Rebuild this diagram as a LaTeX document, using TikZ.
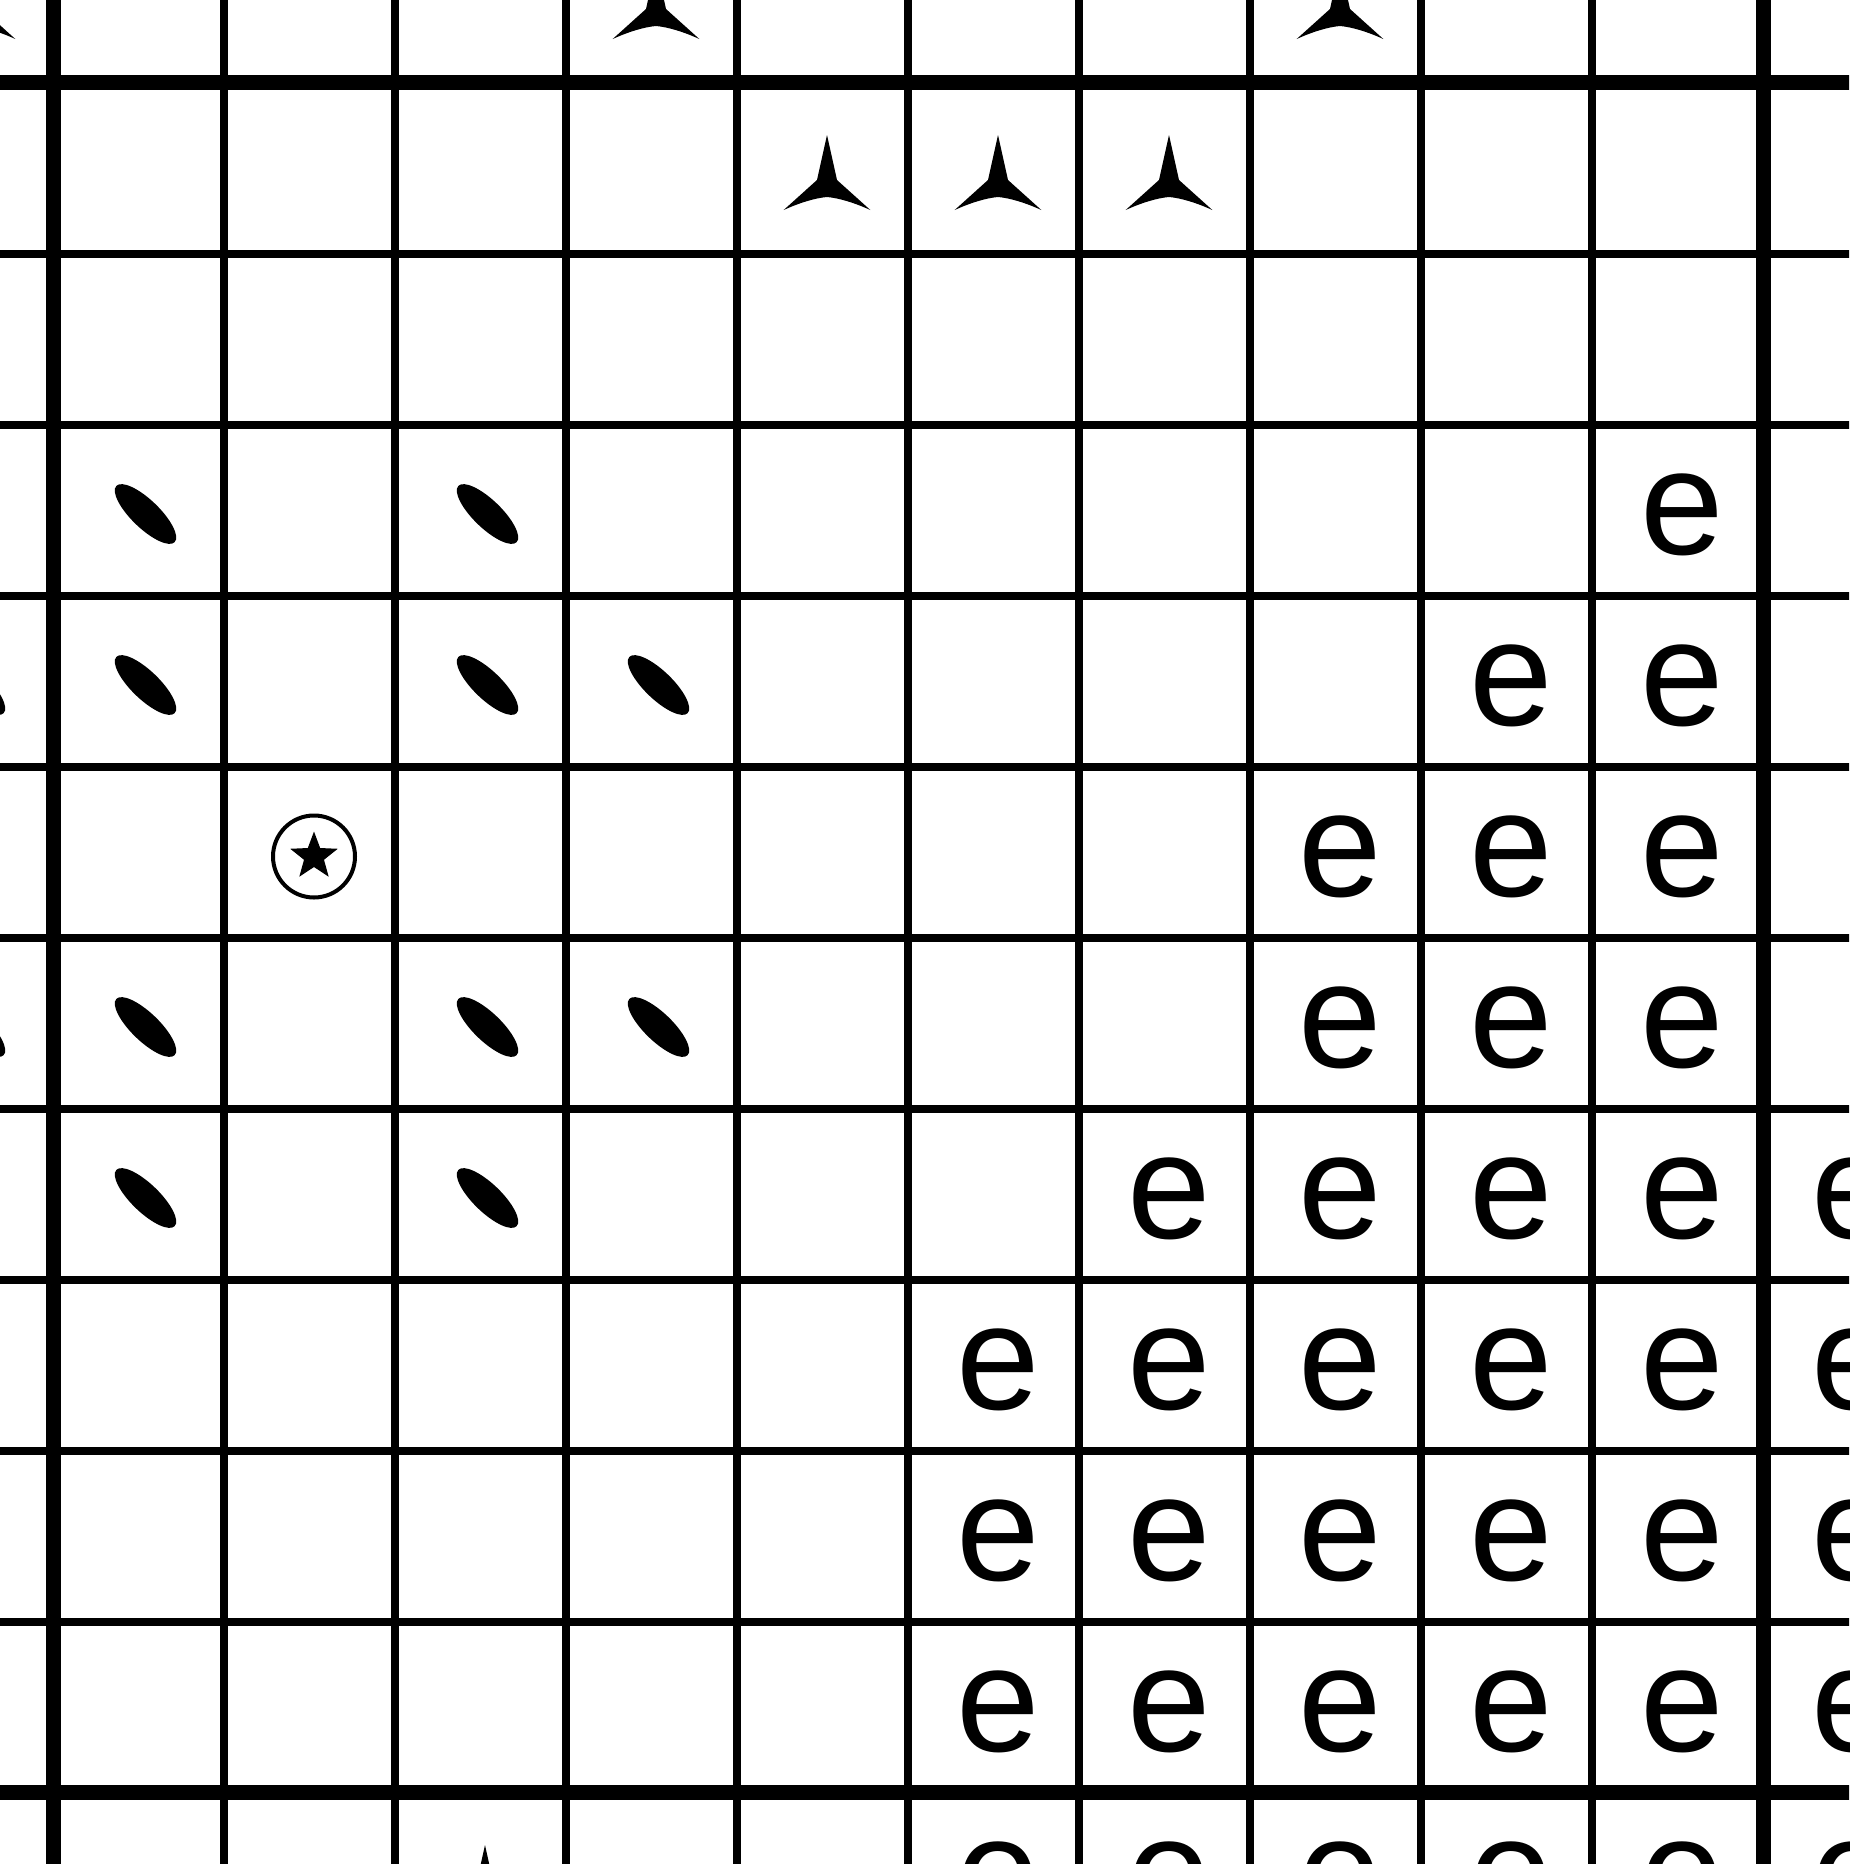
\documentclass[tikz,border=0pt]{standalone}
\usepackage{fontspec}
\setmainfont{Liberation Sans}
\usetikzlibrary{shapes.geometric}
\begin{document}
\begin{tikzpicture}[x=0.5pt,y=-0.5pt,
  thingrid/.style={line width=4pt},
  thickgrid/.style={line width=7.5pt},
  letter/.style={inner sep=0pt, font=\fontsize{75}{75}\selectfont},
  oval/.style={ellipse, fill=black, draw=none, inner sep=0pt, outer sep=0pt, minimum width=40.5pt, minimum height=14pt, rotate=-44},
  ring/.style={circle, draw=black, line width=2pt, inner sep=0pt, minimum size=41pt},
  tripod/.style={fill=black}
]
\useasboundingbox (0,0) rectangle (1849,1864);
\clip (0,0) rectangle (1849,1864);
\fill[white] (0,0) rectangle (1849,1864);
% grid
\foreach \k in {1,...,9} {
  \draw[thingrid] ({53+171*\k},-20) -- ({53+171*\k},1890);
  \draw[thingrid] (-20,{82.5+171*\k}) -- (1870,{82.5+171*\k});
}
\foreach \k in {0,10} {
  \draw[thickgrid] ({53+171*\k},-20) -- ({53+171*\k},1890);
  \draw[thickgrid] (-20,{82.5+171*\k}) -- (1870,{82.5+171*\k});
}
% letters e
\foreach \r/\c in {2/9,3/8,3/9,4/7,4/8,4/9,5/7,5/8,5/9,6/6}
  \node[letter] (e\r-\c) at ({143+171*\c},{172.5+171*\r}) {e};
\foreach \r in {6,...,10}
  \foreach \c in {7,...,10}
    \node[letter] (e\r-\c) at ({143+171*\c},{172.5+171*\r}) {e};
\foreach \r in {7,...,10}
  \foreach \c in {5,6}
    \node[letter] (e\r-\c) at ({143+171*\c},{172.5+171*\r}) {e};
% ellipses
\foreach \r/\c in {2/0,2/2,3/-1,3/0,3/2,3/3,5/-1,5/0,5/2,5/3,6/0,6/2}
  \node[oval] (o\r-\c) at ({145.5+171*\c},{172+171*\r}) {};
% tripods
\foreach \r/\c in {-1/-1,-1/3,-1/7,0/4,0/5,0/6,10/2}
  \fill[tripod,shift={({143+171*\c},{185+171*\r})}]
    (0,-50) -- (-10,-5) -- (-43.3,25)
    .. controls (-28,18) and (-12,13) .. (0,12)
    .. controls (12,13) and (28,18) .. (43.3,25)
    -- (10,-5) -- cycle;
% circled star
\node[ring] (ring) at ({143+171*1},{172.5+171*4}) {};
\fill[shift={(ring.center)}] (-90:25) -- (-54:10.5) -- (-18:25) -- (18:10.5) -- (54:25) -- (90:10.5) -- (126:25) -- (162:10.5) -- (198:25) -- (234:10.5) -- cycle;
\end{tikzpicture}
\end{document}
